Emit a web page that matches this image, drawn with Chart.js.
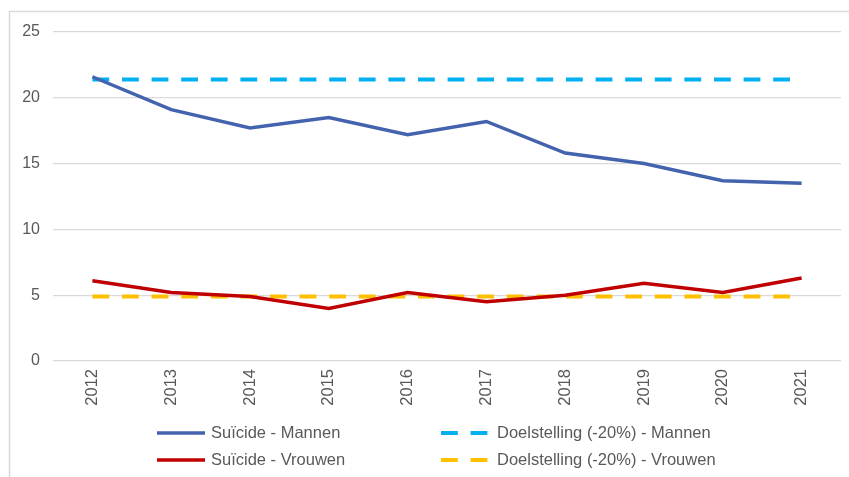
<!DOCTYPE html>
<html>
<head>
<meta charset="utf-8">
<script src="https://cdn.jsdelivr.net/npm/chart.js@4/dist/chart.umd.min.js"></script>
<style>
  html, body { margin: 0; padding: 0; background: #ffffff; }
  #wrap { position: relative; width: 849px; height: 477px; }
</style>
</head>
<body>
<div id="wrap"><canvas id="c" width="849" height="477"></canvas></div>
<script>
const years = ['2012','2013','2014','2015','2016','2017','2018','2019','2020','2021'];
const suicideMannen  = [21.6, 19.1, 17.7, 18.5, 17.2, 18.2, 15.8, 15.0, 13.7, 13.5];
const suicideVrouwen = [6.1, 5.2, 4.9, 4.0, 5.2, 4.5, 5.0, 5.9, 5.2, 6.3];
const doelMannen  = [21.4, 21.4, 21.4, 21.4, 21.4, 21.4, 21.4, 21.4, 21.4, 21.4];
const doelVrouwen = [4.9, 4.9, 4.9, 4.9, 4.9, 4.9, 4.9, 4.9, 4.9, 4.9];
const yTicks = [0, 5, 10, 15, 20, 25];

const FONT = '"Liberation Sans", Arial, Helvetica, sans-serif';
const TXT = '#595959';

const frame = {
  id: 'frame',
  beforeDraw(chart) {
    const ctx = chart.ctx;
    ctx.save();
    ctx.strokeStyle = '#d9d9d9';
    ctx.lineWidth = 1.5;
    ctx.beginPath();
    ctx.moveTo(9.5, 477);
    ctx.lineTo(9.5, 11.5);
    ctx.lineTo(849, 11.5);
    ctx.stroke();
    ctx.restore();
  }
};

const gridLegend = {
  id: 'gridLegend',
  afterDraw(chart, args, opts) {
    const ctx = chart.ctx;
    const ds = chart.data.datasets;
    ctx.save();
    ctx.font = '16.5px ' + FONT;
    ctx.fillStyle = TXT;
    ctx.textBaseline = 'middle';
    ds.forEach((d, i) => {
      const col = opts.columns[i % 2];
      const y = opts.rows[Math.floor(i / 2)];
      ctx.save();
      ctx.strokeStyle = d.borderColor;
      ctx.lineWidth = d.borderWidth;
      ctx.setLineDash(d.borderDash || []);
      ctx.lineCap = 'butt';
      ctx.beginPath();
      ctx.moveTo(col.x0, y);
      ctx.lineTo(col.x1, y);
      ctx.stroke();
      ctx.restore();
      ctx.fillText(d.label, col.tx, y);
    });
    ctx.restore();
  }
};

new Chart(document.getElementById('c'), {
  type: 'line',
  data: {
    labels: years,
    datasets: [
      { label: 'Suïcide - Mannen', data: suicideMannen, borderColor: '#4463AE', borderWidth: 3.5, pointRadius: 0, tension: 0 },
      { label: 'Doelstelling (-20%) - Mannen', data: doelMannen, borderColor: '#00B0F0', borderWidth: 4, borderDash: [16.8, 12.8], pointRadius: 0, tension: 0 },
      { label: 'Suïcide - Vrouwen', data: suicideVrouwen, borderColor: '#C00000', borderWidth: 3.5, pointRadius: 0, tension: 0 },
      { label: 'Doelstelling (-20%) - Vrouwen', data: doelVrouwen, borderColor: '#FFC000', borderWidth: 4, borderDash: [16.8, 12.8], pointRadius: 0, tension: 0 }
    ]
  },
  options: {
    responsive: false,
    animation: false,
    layout: { padding: { top: 32, left: 0, right: 8, bottom: 0 } },
    plugins: {
      legend: { display: false },
      tooltip: { enabled: false },
      gridLegend: {
        columns: [ { x0: 157, x1: 205, tx: 211 }, { x0: 441, x1: 488, tx: 497 } ],
        rows: [433, 460]
      }
    },
    scales: {
      x: {
        offset: true,
        grid: { display: false, drawTicks: false },
        border: { display: false },
        ticks: { minRotation: 90, maxRotation: 90, padding: 8, color: TXT, font: { family: FONT, size: 16.5 }, autoSkip: false },
        afterFit(scale) { scale.height = 116; }
      },
      y: {
        min: 0, max: 25,
        afterBuildTicks(scale) { scale.ticks = yTicks.map(v => ({ value: v })); },
        grid: { color: '#d9d9d9', lineWidth: 1.2, drawTicks: false },
        border: { display: false },
        ticks: { padding: 13, color: TXT, font: { family: FONT, size: 16 } },
        afterFit(scale) { scale.width = 53; }
      }
    }
  },
  plugins: [frame, gridLegend]
});
</script>
</body>
</html>
